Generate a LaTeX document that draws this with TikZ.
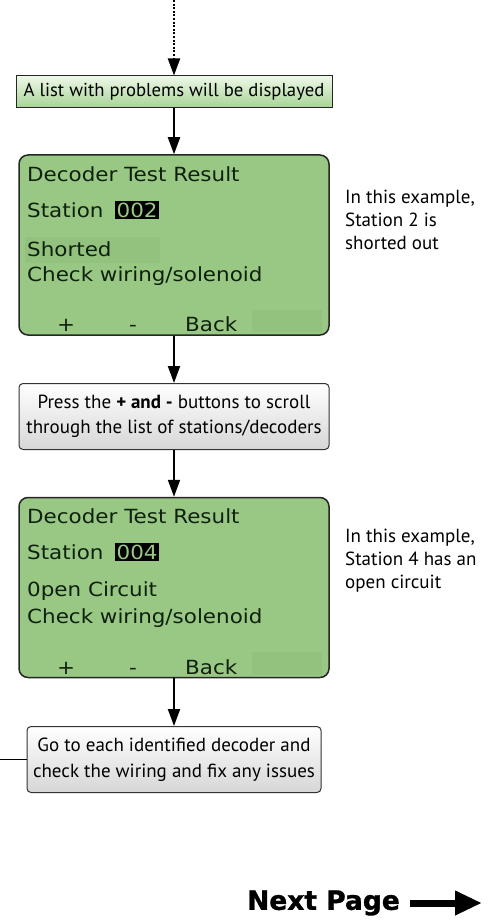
\documentclass[tikz,border=0pt]{standalone}
\usepackage{fontspec}
\setmainfont{PT Sans}
\newfontfamily\lcdfont[FakeStretch=1.1]{DejaVu Sans}
\newfontfamily\npfont[BoldFeatures={FakeBold=1.2}]{DejaVu Sans}
\usetikzlibrary{arrows.meta,shadings}
\definecolor{lcdgreen}{HTML}{98C884}
\definecolor{lcddark}{HTML}{92C27E}
\definecolor{lcdtext}{HTML}{10200E}
\definecolor{boxgtop}{HTML}{EEF8E8}
\definecolor{boxgbot}{HTML}{A6D395}
\tikzset{
  flow/.style={line width=2pt,-{Triangle[width=12pt,length=17pt]}},
  greenbox/.style={draw=black!85,line width=1pt,top color=boxgtop,bottom color=boxgbot,
    minimum width=316pt,minimum height=32pt,inner sep=0pt,font=\fontsize{18.7}{22}\selectfont},
  graybox/.style={draw=black!80,line width=1pt,rounded corners=4pt,top color=white,bottom color=black!16,
    minimum height=66pt,inner sep=0pt,align=center,font=\fontsize{19}{25.5}\selectfont},
  lcd/.style={draw=black!85,line width=1.5pt,fill=lcdgreen,rounded corners=9pt,
    minimum width=310pt,minimum height=180pt,inner sep=0pt},
  lcdtxt/.style={anchor=west,inner sep=0pt,font=\lcdfont\fontsize{19.5}{19.5}\selectfont,text=lcdtext},
  lcdkey/.style={anchor=base,inner sep=0pt,font=\lcdfont\fontsize{19.5}{19.5}\selectfont,text=lcdtext},
  hilite/.style={anchor=west,inner sep=1.5pt,fill=black,text=lcdgreen,font=\lcdfont\fontsize{19.5}{19.5}\selectfont},
  shade/.style={fill=lcddark,draw=none},
  note/.style={anchor=north west,align=left,inner sep=0pt,font=\fontsize{19}{23}\selectfont},
}
\begin{document}
\begin{tikzpicture}[x=1pt,y=-1pt]
\useasboundingbox (0,0) rectangle (488,920);
% top box
\node[greenbox] (box1) at (174,92) {A list with problems will be displayed};
\coordinate (dtop) at (174,0);
\draw[line width=2pt,dash pattern=on 2pt off 1.6pt,-{Triangle[width=12pt,length=17pt]}] (dtop) -- (box1.north);
% LCD 1
\node[lcd] (lcd1) at (174,245) {};
\fill[shade] (25,237) rectangle (160,263);
\fill[shade] (252,310) rectangle (322,332);
\node[lcdtxt] (l1a) at (27,174) {Decoder Test Result};
\node[lcdtxt] (l1b) at (27,210) {Station};
\node[hilite] (l1c) at (115,210) {002};
\node[lcdtxt] (l1d) at (27,249) {Shorted};
\node[lcdtxt] (l1e) at (27,276) {Check wiring/solenoid};
\node[lcdkey] (l1f) at (66,331) {+};
\node[lcdkey] (l1g) at (133,331) {-};
\node[lcdkey,anchor=base west] (l1h) at (185,331) {Back};
\node[note] (n1) at (345,190) {In this example,\\Station 2 is\\shorted out};
\draw[flow] (box1) -- (lcd1);
% box 2
\node[graybox,minimum width=310pt] (box2) at (174,416.5) {Press the \textbf{+ and -} buttons to scroll\\through the list of stations/decoders};
\draw[flow] (lcd1) -- (box2);
% LCD 2
\node[lcd] (lcd2) at (174,587.5) {};
\fill[shade] (252,652) rectangle (322,675);
\node[lcdtxt] (l2a) at (27,516) {Decoder Test Result};
\node[lcdtxt] (l2b) at (27,552) {Station};
\node[hilite] (l2c) at (115,552) {004};
\node[lcdtxt] (l2d) at (27,591) {0pen Circuit};
\node[lcdtxt] (l2e) at (27,618) {Check wiring/solenoid};
\node[lcdkey] (l2f) at (66,674) {+};
\node[lcdkey] (l2g) at (133,674) {-};
\node[lcdkey,anchor=base west] (l2h) at (185,674) {Back};
\node[note] (n2) at (345,529) {In this example,\\Station 4 has an\\open circuit};
\draw[flow] (box2) -- (lcd2);
% box 3
\node[graybox,minimum width=294pt] (box3) at (174,759.5) {Go to each identified decoder and\\check the wiring and fix any issues};
\draw[flow] (lcd2) -- (box3);
\coordinate (lend) at (0,759.5);
\draw[line width=1.5pt] (box3.west) -- (lend);
% next page
\node[anchor=east,inner sep=0pt,font=\npfont\bfseries\fontsize{26.5}{26.5}\selectfont] (np) at (400,903) {Next Page};
\coordinate (npend) at (482,903);
\draw[line width=7pt,-{Triangle[width=23pt,length=27pt]}] ([xshift=10pt]np.east) -- (npend);
\end{tikzpicture}
\end{document}
